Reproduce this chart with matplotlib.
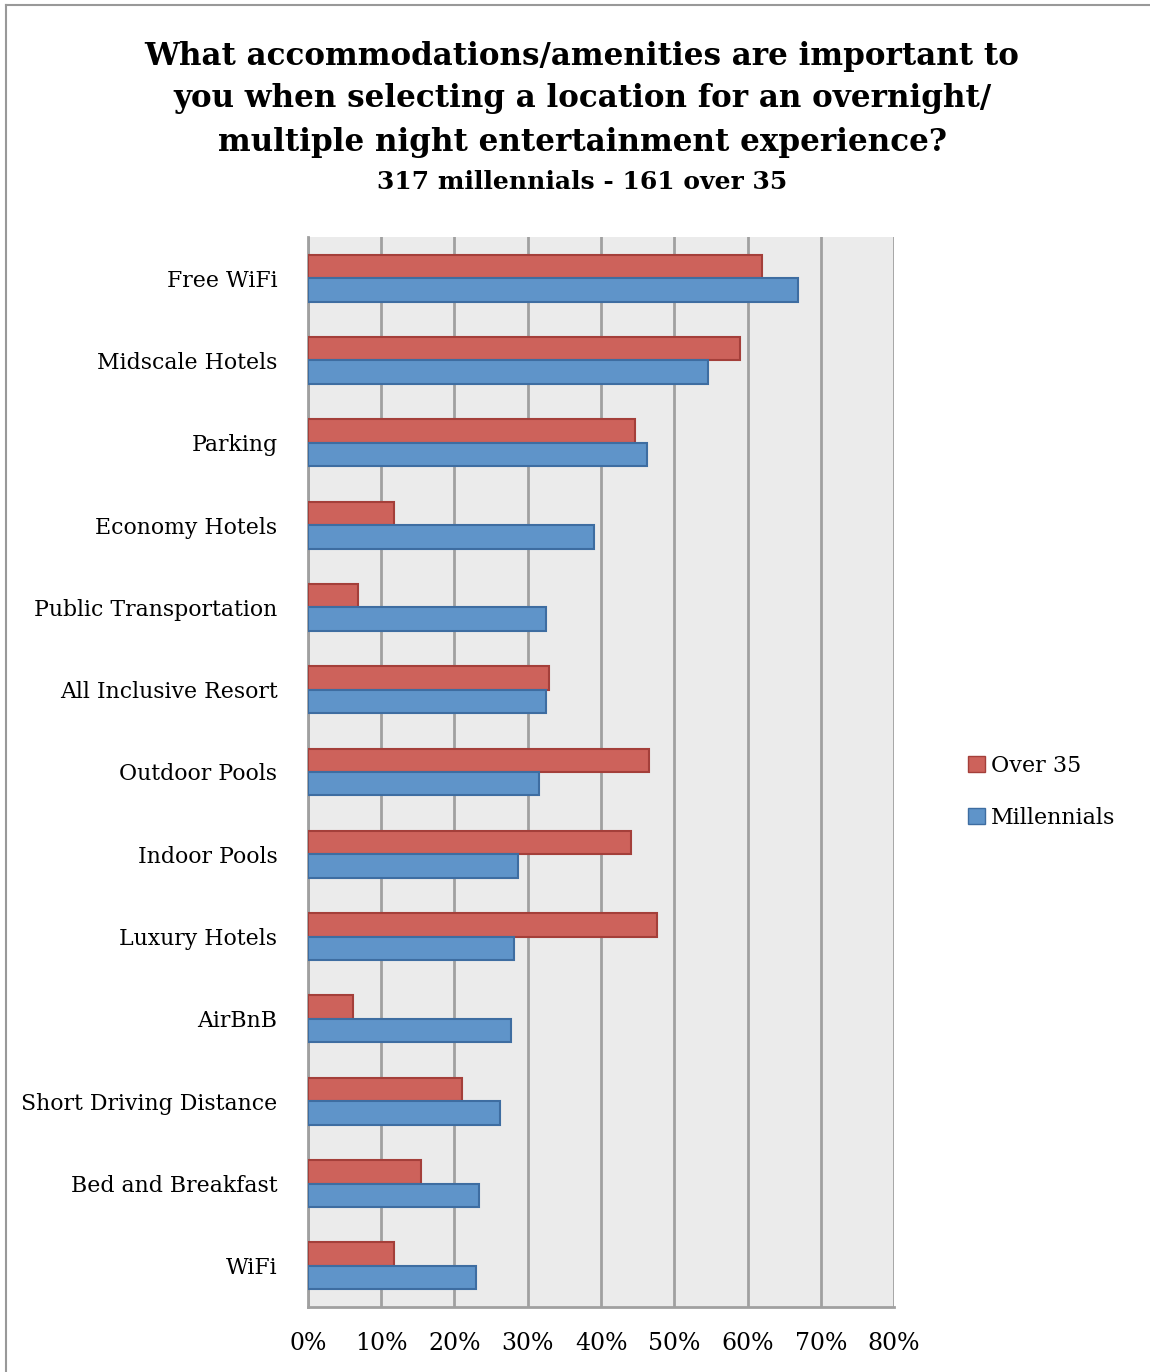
import numpy as np
import matplotlib
matplotlib.use("Agg")
import matplotlib.pyplot as plt
from matplotlib.lines import Line2D
from matplotlib.patches import Patch

plt.rcParams["font.family"] = ["DejaVu Serif"]

categories = ["Free WiFi", "Midscale Hotels", "Parking", "Economy Hotels",
              "Public Transportation", "All Inclusive Resort", "Outdoor Pools",
              "Indoor Pools", "Luxury Hotels", "AirBnB", "Short Driving Distance",
              "Bed and Breakfast", "WiFi"]
over35 = [62.0, 59.0, 44.6, 11.7, 6.8, 32.9, 46.6, 44.1, 47.6, 6.1, 21.0, 15.4, 11.7]
millennials = [66.9, 54.6, 46.3, 39.0, 32.5, 32.5, 31.5, 28.7, 28.1, 27.7, 26.2, 23.3, 22.9]
ticks = [0, 10, 20, 30, 40, 50, 60, 70, 80]

RED, RED_EDGE = "#CD625B", "#A43F3A"
BLUE, BLUE_EDGE = "#5F94C9", "#3E6DA1"

W, H = 1150, 1372
fig = plt.figure(figsize=(W / 100, H / 100), dpi=100)
# plot area: x 308..894, y 237..1307 (pixels)
ax = fig.add_axes([308 / W, 1 - 1307 / H, (894 - 308) / W, (1307 - 237) / H])
ax.set_facecolor("#EBEBEB")

n = len(categories)
y = np.arange(n)
h = 0.285
ax.barh(y - h / 2, over35, height=h, color=RED, edgecolor=RED_EDGE, linewidth=1.5,
        label="Over 35", zorder=3)
ax.barh(y + h / 2, millennials, height=h, color=BLUE, edgecolor=BLUE_EDGE, linewidth=1.5,
        label="Millennials", zorder=3)

ax.set_ylim(n - 0.5, -0.5)
ax.set_xlim(0, 80)
ax.set_xticks(ticks)
ax.set_xticklabels([f"{t}%" for t in ticks], fontsize=17)
ax.set_yticks(y)
ax.set_yticklabels(categories, fontsize=15.8)
ax.tick_params(axis="both", length=0)
ax.tick_params(axis="x", pad=18)
ax.tick_params(axis="y", pad=22)
ax.grid(axis="x", color="#A0A0A0", linewidth=2, zorder=1)
for side in ["top", "right"]:
    ax.spines[side].set_visible(False)
for side in ["left", "bottom"]:
    ax.spines[side].set_color("#A0A0A0")
    ax.spines[side].set_linewidth(2)

fig.text(582 / W, 1 - 99 / H,
         "What accommodations/amenities are important to\n"
         "you when selecting a location for an overnight/\n"
         "multiple night entertainment experience?",
         ha="center", va="center", fontsize=22.3, fontweight="bold", linespacing=1.5)
fig.text(582 / W, 1 - 182 / H, "317 millennials - 161 over 35",
         ha="center", va="center", fontsize=18, fontweight="bold")

handles = [Patch(facecolor=RED, edgecolor=RED_EDGE, label="Over 35"),
           Patch(facecolor=BLUE, edgecolor=BLUE_EDGE, label="Millennials")]
fig.legend(handles=handles, loc="center left", bbox_to_anchor=(948 / W, 1 - 792 / H),
           frameon=False, fontsize=16, handlelength=0.75, handleheight=0.75,
           handletextpad=0.3, labelspacing=1.35)

# partial frame around the figure (top and left)
fig.add_artist(Line2D([6 / W, 6 / W], [0, 1 - 5 / H], transform=fig.transFigure,
                      color="#999999", linewidth=1.5))
fig.add_artist(Line2D([6 / W, 1], [1 - 5 / H, 1 - 5 / H], transform=fig.transFigure,
                      color="#999999", linewidth=1.5))

fig.savefig("out.png", dpi=100)
